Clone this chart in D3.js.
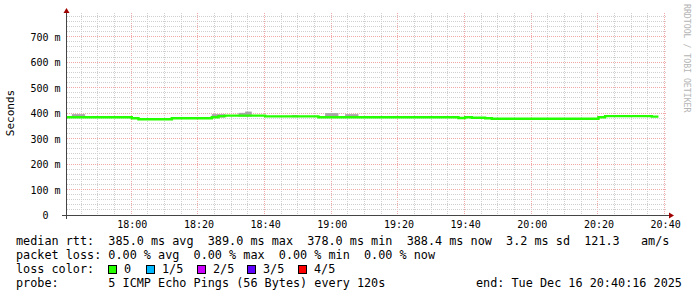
<!DOCTYPE html>
<html>
<head>
<meta charset="utf-8">
<script src="https://cdn.jsdelivr.net/npm/d3@7"></script>
<style>
body{margin:0;background:#fff;}
text{font-family:"DejaVu Sans Mono",monospace;white-space:pre;}
</style>
</head>
<body>
<script>
// median rtt steps (clock time, ms)
var stepTimes = ["17:40:16","18:00:00","18:02:00","18:12:00","18:24:00","18:26:00","18:28:00","18:40:00",
                 "18:56:00","19:38:00","19:40:00","19:42:00","19:46:00","19:48:00","20:20:00","20:22:00",
                 "20:36:00","20:38:00"];
var medianMs = [386,382,378,382,386,390,392,389,386,383,386,384,382,380,386,390,388,388];

// smoke (spread of the pings) above the median
var smokeStart = ["17:42:00","18:24:00","18:32:00","18:34:00","18:48:00","18:58:00","19:04:00"];
var smokeEnd   = ["17:46:00","18:28:00","18:34:00","18:36:00","18:50:00","19:02:00","19:08:00"];
var smokeTop   = [398,398,403,408,394,402,398];
var smokeLow   = [384,384,388,388,386,384,384];

var yTicks = [0,100,200,300,400,500,600,700];

var lossLabels = ["0","1/5","2/5","3/5","4/5"];
var lossColors = ["#26ff00","#00b8ff","#cc00ff","#6000ff","#ff0000"];

var legendLines = [
  "median rtt:  385.0 ms avg  389.0 ms max  378.0 ms min  388.4 ms now  3.2 ms sd  121.3   am/s",
  "packet loss: 0.00 % avg  0.00 % max  0.00 % min  0.00 % now",
  "loss color:",
  "probe:       5 ICMP Echo Pings (56 Bytes) every 120s"
];
var endLabel = "end: Tue Dec 16 20:40:16 2025";

var width = 697, height = 297;
var svg = d3.select("body").append("svg")
  .attr("width",width)
  .attr("height",height);

var parse = d3.timeParse("%H:%M:%S");
var tStart = parse("17:40:16"), tEnd = parse("20:40:16");

var xScale = d3.scaleTime().domain([tStart,tEnd]).range([66,666]);
var yScale = d3.scaleLinear().domain([0,795]).range([215.5,13]);

var px = function(v){ return Math.round(v) - 0.5; };

// grid
var grid = svg.append("g");
var minorX = d3.timeMinute.every(5).range(tStart,tEnd);
minorX.forEach(function(d){
  var major = d.getMinutes() % 20 == 0;
  grid.append("line")
    .attr("x1",px(xScale(d))).attr("x2",px(xScale(d)))
    .attr("y1",13).attr("y2",215)
    .attr("stroke", major ? "#f0a8a8" : "#cfcfcf")
    .attr("stroke-dasharray","1,1");
});
d3.range(20,795,20).forEach(function(v){
  var major = v % 100 == 0;
  grid.append("line")
    .attr("x1",67).attr("x2",667)
    .attr("y1",px(yScale(v))).attr("y2",px(yScale(v)))
    .attr("stroke", major ? "#f0a8a8" : "#cfcfcf")
    .attr("stroke-dasharray","1,1");
});

// smoke
svg.append("g").selectAll("rect")
  .data(smokeTop)
  .enter()
  .append("rect")
  .attr("x",function(d,i){ return xScale(parse(smokeStart[i])); })
  .attr("width",function(d,i){ return xScale(parse(smokeEnd[i])) - xScale(parse(smokeStart[i])); })
  .attr("y",function(d){ return yScale(d); })
  .attr("height",function(d,i){ return yScale(smokeLow[i]) - yScale(d); })
  .attr("fill","#a6a6a6");

// median line
var pts = stepTimes.map(function(s,i){ return {t:parse(s), v:medianMs[i]}; });
var line = d3.line()
  .x(function(d){ return xScale(d.t); })
  .y(function(d){ return yScale(d.v); })
  .curve(d3.curveStepAfter);
svg.append("path")
  .datum(pts)
  .attr("d",line)
  .attr("fill","none")
  .attr("stroke",lossColors[0])
  .attr("stroke-width",2.4);

// axes
var yAxis = d3.axisLeft(yScale)
  .tickValues(yTicks)
  .tickSize(0)
  .tickPadding(6)
  .tickFormat(function(d){ return d == 0 ? "0\u00a0\u00a0" : d + " m"; });
var gy = svg.append("g").attr("transform","translate(66.5,0)").call(yAxis);
gy.select(".domain").remove();
gy.selectAll("text").attr("font-size","10px").attr("font-family","DejaVu Sans Mono").attr("fill","#000");

var xAxis = d3.axisBottom(xScale)
  .ticks(d3.timeMinute.every(20))
  .tickSize(0)
  .tickPadding(5)
  .tickFormat(d3.timeFormat("%H:%M"));
var gx = svg.append("g").attr("transform","translate(0,215.5)").call(xAxis);
gx.select(".domain").remove();
gx.selectAll("text").attr("font-size","10px").attr("font-family","DejaVu Sans Mono").attr("fill","#000");

// axis lines + arrows
svg.append("line").attr("x1",62).attr("x2",670).attr("y1",215.5).attr("y2",215.5).attr("stroke","#444");
svg.append("line").attr("x1",66.5).attr("x2",66.5).attr("y1",12).attr("y2",219).attr("stroke","#444");
svg.append("path").attr("d","M63.5,13 L69.5,13 L66.5,8 Z").attr("fill","#a00000");
svg.append("path").attr("d","M669,212.5 L669,218.5 L674,215.5 Z").attr("fill","#a00000");

// titles
svg.append("text")
  .attr("transform","translate(14,113) rotate(-90)")
  .attr("text-anchor","middle")
  .attr("font-size","11px")
  .text("Seconds");
svg.append("text")
  .attr("transform","translate(684,4) rotate(90)")
  .attr("font-size","8.2px")
  .attr("fill","#b4b4b4")
  .text("RRDTOOL / TOBI OETIKER");

// legend
var leg = svg.append("g").attr("font-size","11.8px").attr("fill","#000");
var rowY = [245,259,273,287];
legendLines.forEach(function(s,i){
  leg.append("text").attr("x",16).attr("y",rowY[i]).text(s);
});
leg.append("text").attr("x",476).attr("y",rowY[3]).text(endLabel);

var boxX = [108,146,197,247,298];
lossLabels.forEach(function(l,i){
  leg.append("rect")
    .attr("x",boxX[i]+0.5).attr("y",265.5)
    .attr("width",8).attr("height",8)
    .attr("fill",lossColors[i])
    .attr("stroke","#000");
  leg.append("text").attr("x",boxX[i]+16).attr("y",rowY[2]).text(l);
});
</script>
</body>
</html>
